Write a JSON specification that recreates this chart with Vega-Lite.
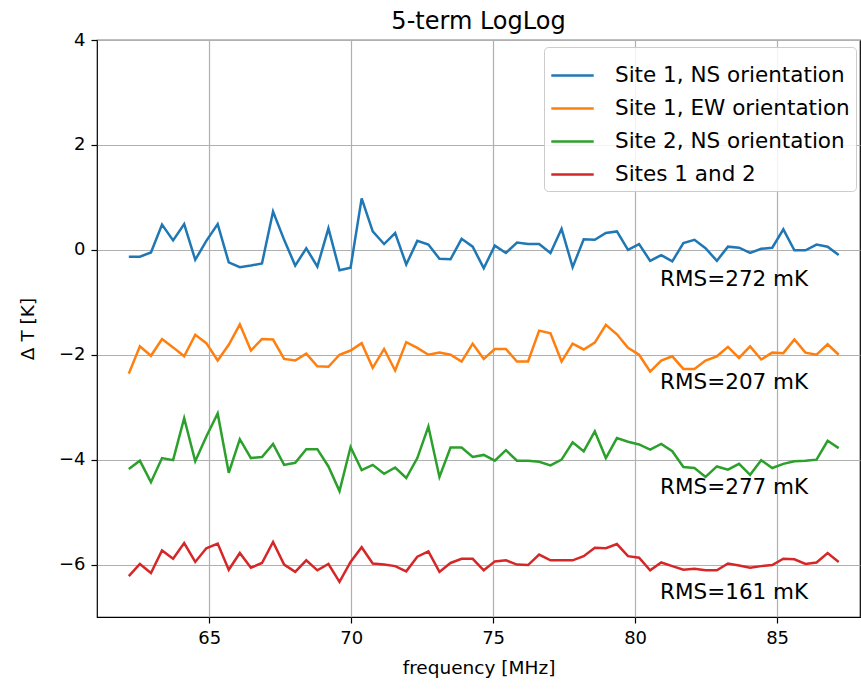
{
  "$schema": "https://vega.github.io/schema/vega-lite/v6.json",
  "autosize": {"type": "none"},
  "padding": {"left": 97, "top": 40, "right": 1, "bottom": 72},
  "width": 763,
  "height": 577,
  "background": "white",
  "config": {
    "font": "DejaVu Sans",
    "view": {"stroke": "black", "strokeWidth": 1.2},
    "axis": {
      "labelFont": "DejaVu Sans", "titleFont": "DejaVu Sans",
      "labelFontSize": 18, "titleFontSize": 18.5, "labelColor": "black", "titleColor": "black",
      "titleFontWeight": "normal", "domain": false, "tickColor": "black", "tickSize": 6, "tickWidth": 1.2,
      "gridColor": "#b0b0b0", "gridWidth": 1.2
    }
  },
  "title": {"text": "5-term LogLog", "fontSize": 24, "fontWeight": "normal", "font": "DejaVu Sans", "color": "black", "offset": -3},
  "datasets": {
    "spectra": [
      {"f": 62.17, "Site 1, NS orientation": -0.13, "Site 1, EW orientation": -2.36, "Site 2, NS orientation": -4.18, "Sites 1 and 2": -6.22},
      {"f": 62.56, "Site 1, NS orientation": -0.13, "Site 1, EW orientation": -1.84, "Site 2, NS orientation": -4.02, "Sites 1 and 2": -5.99},
      {"f": 62.95, "Site 1, NS orientation": -0.05, "Site 1, EW orientation": -2.02, "Site 2, NS orientation": -4.43, "Sites 1 and 2": -6.16},
      {"f": 63.34, "Site 1, NS orientation": 0.48, "Site 1, EW orientation": -1.70, "Site 2, NS orientation": -3.97, "Sites 1 and 2": -5.73},
      {"f": 63.73, "Site 1, NS orientation": 0.18, "Site 1, EW orientation": -1.86, "Site 2, NS orientation": -4.01, "Sites 1 and 2": -5.89},
      {"f": 64.12, "Site 1, NS orientation": 0.49, "Site 1, EW orientation": -2.03, "Site 2, NS orientation": -3.21, "Sites 1 and 2": -5.59},
      {"f": 64.51, "Site 1, NS orientation": -0.19, "Site 1, EW orientation": -1.62, "Site 2, NS orientation": -4.03, "Sites 1 and 2": -5.95},
      {"f": 64.90, "Site 1, NS orientation": 0.17, "Site 1, EW orientation": -1.78, "Site 2, NS orientation": -3.56, "Sites 1 and 2": -5.69},
      {"f": 65.30, "Site 1, NS orientation": 0.49, "Site 1, EW orientation": -2.11, "Site 2, NS orientation": -3.12, "Sites 1 and 2": -5.60},
      {"f": 65.69, "Site 1, NS orientation": -0.24, "Site 1, EW orientation": -1.81, "Site 2, NS orientation": -4.25, "Sites 1 and 2": -6.10},
      {"f": 66.08, "Site 1, NS orientation": -0.33, "Site 1, EW orientation": -1.42, "Site 2, NS orientation": -3.61, "Sites 1 and 2": -5.78},
      {"f": 66.47, "Site 1, NS orientation": -0.30, "Site 1, EW orientation": -1.92, "Site 2, NS orientation": -3.97, "Sites 1 and 2": -6.06},
      {"f": 66.86, "Site 1, NS orientation": -0.26, "Site 1, EW orientation": -1.70, "Site 2, NS orientation": -3.95, "Sites 1 and 2": -5.97},
      {"f": 67.25, "Site 1, NS orientation": 0.73, "Site 1, EW orientation": -1.71, "Site 2, NS orientation": -3.70, "Sites 1 and 2": -5.57},
      {"f": 67.64, "Site 1, NS orientation": 0.19, "Site 1, EW orientation": -2.08, "Site 2, NS orientation": -4.10, "Sites 1 and 2": -6.00},
      {"f": 68.03, "Site 1, NS orientation": -0.30, "Site 1, EW orientation": -2.11, "Site 2, NS orientation": -4.06, "Sites 1 and 2": -6.14},
      {"f": 68.42, "Site 1, NS orientation": 0.03, "Site 1, EW orientation": -1.98, "Site 2, NS orientation": -3.80, "Sites 1 and 2": -5.92},
      {"f": 68.81, "Site 1, NS orientation": -0.32, "Site 1, EW orientation": -2.22, "Site 2, NS orientation": -3.80, "Sites 1 and 2": -6.11},
      {"f": 69.20, "Site 1, NS orientation": 0.41, "Site 1, EW orientation": -2.23, "Site 2, NS orientation": -4.13, "Sites 1 and 2": -5.99},
      {"f": 69.59, "Site 1, NS orientation": -0.39, "Site 1, EW orientation": -2.00, "Site 2, NS orientation": -4.60, "Sites 1 and 2": -6.33},
      {"f": 69.98, "Site 1, NS orientation": -0.34, "Site 1, EW orientation": -1.92, "Site 2, NS orientation": -3.76, "Sites 1 and 2": -5.95},
      {"f": 70.37, "Site 1, NS orientation": 0.98, "Site 1, EW orientation": -1.78, "Site 2, NS orientation": -4.20, "Sites 1 and 2": -5.67},
      {"f": 70.76, "Site 1, NS orientation": 0.35, "Site 1, EW orientation": -2.25, "Site 2, NS orientation": -4.10, "Sites 1 and 2": -5.98},
      {"f": 71.16, "Site 1, NS orientation": 0.11, "Site 1, EW orientation": -1.89, "Site 2, NS orientation": -4.27, "Sites 1 and 2": -6.00},
      {"f": 71.55, "Site 1, NS orientation": 0.32, "Site 1, EW orientation": -2.30, "Site 2, NS orientation": -4.15, "Sites 1 and 2": -6.03},
      {"f": 71.94, "Site 1, NS orientation": -0.28, "Site 1, EW orientation": -1.76, "Site 2, NS orientation": -4.35, "Sites 1 and 2": -6.13},
      {"f": 72.33, "Site 1, NS orientation": 0.17, "Site 1, EW orientation": -1.87, "Site 2, NS orientation": -3.97, "Sites 1 and 2": -5.85},
      {"f": 72.72, "Site 1, NS orientation": 0.10, "Site 1, EW orientation": -2.00, "Site 2, NS orientation": -3.37, "Sites 1 and 2": -5.75},
      {"f": 73.11, "Site 1, NS orientation": -0.17, "Site 1, EW orientation": -1.96, "Site 2, NS orientation": -4.33, "Sites 1 and 2": -6.14},
      {"f": 73.50, "Site 1, NS orientation": -0.18, "Site 1, EW orientation": -2.00, "Site 2, NS orientation": -3.77, "Sites 1 and 2": -5.97},
      {"f": 73.89, "Site 1, NS orientation": 0.21, "Site 1, EW orientation": -2.13, "Site 2, NS orientation": -3.77, "Sites 1 and 2": -5.89},
      {"f": 74.28, "Site 1, NS orientation": 0.06, "Site 1, EW orientation": -1.79, "Site 2, NS orientation": -3.95, "Sites 1 and 2": -5.89},
      {"f": 74.67, "Site 1, NS orientation": -0.35, "Site 1, EW orientation": -2.08, "Site 2, NS orientation": -3.91, "Sites 1 and 2": -6.11},
      {"f": 75.06, "Site 1, NS orientation": 0.08, "Site 1, EW orientation": -1.89, "Site 2, NS orientation": -4.02, "Sites 1 and 2": -5.94},
      {"f": 75.45, "Site 1, NS orientation": -0.06, "Site 1, EW orientation": -1.89, "Site 2, NS orientation": -3.82, "Sites 1 and 2": -5.92},
      {"f": 75.84, "Site 1, NS orientation": 0.14, "Site 1, EW orientation": -2.13, "Site 2, NS orientation": -4.02, "Sites 1 and 2": -6.00},
      {"f": 76.23, "Site 1, NS orientation": 0.11, "Site 1, EW orientation": -2.13, "Site 2, NS orientation": -4.02, "Sites 1 and 2": -6.01},
      {"f": 76.62, "Site 1, NS orientation": 0.11, "Site 1, EW orientation": -1.54, "Site 2, NS orientation": -4.04, "Sites 1 and 2": -5.81},
      {"f": 77.02, "Site 1, NS orientation": -0.06, "Site 1, EW orientation": -1.59, "Site 2, NS orientation": -4.11, "Sites 1 and 2": -5.92},
      {"f": 77.41, "Site 1, NS orientation": 0.40, "Site 1, EW orientation": -2.13, "Site 2, NS orientation": -4.00, "Sites 1 and 2": -5.92},
      {"f": 77.80, "Site 1, NS orientation": -0.33, "Site 1, EW orientation": -1.79, "Site 2, NS orientation": -3.67, "Sites 1 and 2": -5.92},
      {"f": 78.19, "Site 1, NS orientation": 0.20, "Site 1, EW orientation": -1.90, "Site 2, NS orientation": -3.84, "Sites 1 and 2": -5.84},
      {"f": 78.58, "Site 1, NS orientation": 0.19, "Site 1, EW orientation": -1.77, "Site 2, NS orientation": -3.46, "Sites 1 and 2": -5.68},
      {"f": 78.97, "Site 1, NS orientation": 0.32, "Site 1, EW orientation": -1.43, "Site 2, NS orientation": -3.97, "Sites 1 and 2": -5.69},
      {"f": 79.36, "Site 1, NS orientation": 0.35, "Site 1, EW orientation": -1.61, "Site 2, NS orientation": -3.59, "Sites 1 and 2": -5.61},
      {"f": 79.75, "Site 1, NS orientation": 0.00, "Site 1, EW orientation": -1.87, "Site 2, NS orientation": -3.66, "Sites 1 and 2": -5.84},
      {"f": 80.14, "Site 1, NS orientation": 0.11, "Site 1, EW orientation": -2.00, "Site 2, NS orientation": -3.71, "Sites 1 and 2": -5.87},
      {"f": 80.53, "Site 1, NS orientation": -0.21, "Site 1, EW orientation": -2.32, "Site 2, NS orientation": -3.81, "Sites 1 and 2": -6.11},
      {"f": 80.92, "Site 1, NS orientation": -0.10, "Site 1, EW orientation": -2.11, "Site 2, NS orientation": -3.70, "Sites 1 and 2": -5.96},
      {"f": 81.31, "Site 1, NS orientation": -0.22, "Site 1, EW orientation": -2.03, "Site 2, NS orientation": -3.84, "Sites 1 and 2": -6.03},
      {"f": 81.70, "Site 1, NS orientation": 0.13, "Site 1, EW orientation": -2.27, "Site 2, NS orientation": -4.14, "Sites 1 and 2": -6.10},
      {"f": 82.09, "Site 1, NS orientation": 0.19, "Site 1, EW orientation": -2.27, "Site 2, NS orientation": -4.16, "Sites 1 and 2": -6.08},
      {"f": 82.48, "Site 1, NS orientation": 0.03, "Site 1, EW orientation": -2.11, "Site 2, NS orientation": -4.33, "Sites 1 and 2": -6.11},
      {"f": 82.88, "Site 1, NS orientation": -0.21, "Site 1, EW orientation": -2.03, "Site 2, NS orientation": -4.13, "Sites 1 and 2": -6.11},
      {"f": 83.27, "Site 1, NS orientation": 0.06, "Site 1, EW orientation": -1.85, "Site 2, NS orientation": -4.19, "Sites 1 and 2": -5.98},
      {"f": 83.66, "Site 1, NS orientation": 0.04, "Site 1, EW orientation": -2.06, "Site 2, NS orientation": -4.08, "Sites 1 and 2": -6.02},
      {"f": 84.05, "Site 1, NS orientation": -0.06, "Site 1, EW orientation": -1.84, "Site 2, NS orientation": -4.29, "Sites 1 and 2": -6.06},
      {"f": 84.44, "Site 1, NS orientation": 0.02, "Site 1, EW orientation": -2.09, "Site 2, NS orientation": -4.01, "Sites 1 and 2": -6.03},
      {"f": 84.83, "Site 1, NS orientation": 0.04, "Site 1, EW orientation": -1.96, "Site 2, NS orientation": -4.16, "Sites 1 and 2": -6.01},
      {"f": 85.22, "Site 1, NS orientation": 0.39, "Site 1, EW orientation": -1.97, "Site 2, NS orientation": -4.08, "Sites 1 and 2": -5.89},
      {"f": 85.61, "Site 1, NS orientation": -0.01, "Site 1, EW orientation": -1.71, "Site 2, NS orientation": -4.03, "Sites 1 and 2": -5.90},
      {"f": 86.00, "Site 1, NS orientation": -0.01, "Site 1, EW orientation": -1.96, "Site 2, NS orientation": -4.02, "Sites 1 and 2": -5.99},
      {"f": 86.39, "Site 1, NS orientation": 0.10, "Site 1, EW orientation": -2.00, "Site 2, NS orientation": -4.00, "Sites 1 and 2": -5.96},
      {"f": 86.78, "Site 1, NS orientation": 0.06, "Site 1, EW orientation": -1.80, "Site 2, NS orientation": -3.64, "Sites 1 and 2": -5.78},
      {"f": 87.17, "Site 1, NS orientation": -0.10, "Site 1, EW orientation": -2.00, "Site 2, NS orientation": -3.78, "Sites 1 and 2": -5.95}
    ],
    "notes": [
      {"f": 80.88, "t": -0.57, "label": "RMS=272 mK"},
      {"f": 80.88, "t": -2.53, "label": "RMS=207 mK"},
      {"f": 80.88, "t": -4.55, "label": "RMS=277 mK"},
      {"f": 80.88, "t": -6.55, "label": "RMS=161 mK"}
    ]
  },
  "layer": [
    {
      "data": {"name": "spectra"},
      "transform": [
        {"fold": ["Site 1, NS orientation", "Site 1, EW orientation", "Site 2, NS orientation", "Sites 1 and 2"], "as": ["series", "dT"]}
      ],
      "mark": {"type": "line", "strokeWidth": 2.5, "clip": true},
      "encoding": {
        "x": {"field": "f", "type": "quantitative",
              "scale": {"domain": [61.05, 87.92], "nice": false, "zero": false},
              "axis": {"values": [65, 70, 75, 80, 85], "title": "frequency [MHz]", "titlePadding": 11, "labelPadding": 6}},
        "y": {"field": "dT", "type": "quantitative",
              "scale": {"domain": [-7, 4], "nice": false, "zero": false},
              "axis": {"values": [-6, -4, -2, 0, 2, 4], "title": "Δ T [K]", "titlePadding": 21, "labelPadding": 6}},
        "color": {"field": "series", "type": "nominal",
                  "scale": {"domain": ["Site 1, NS orientation", "Site 1, EW orientation", "Site 2, NS orientation", "Sites 1 and 2"],
                            "range": ["#1f77b4", "#ff7f0e", "#2ca02c", "#d62728"]},
                  "legend": {"title": null, "orient": "none", "legendX": 447, "legendY": 7,
                             "symbolType": "stroke", "symbolSize": 1800, "symbolStrokeWidth": 2.5,
                             "labelFontSize": 21.5, "labelFont": "DejaVu Sans", "labelColor": "black", "labelLimit": 400,
                             "rowPadding": 0, "padding": 6, "labelOffset": 20,
                             "strokeColor": "#cccccc", "fillColor": "rgba(255,255,255,0.85)", "cornerRadius": 4}},
        "detail": {"field": "series"}
      }
    },
    {
      "data": {"name": "notes"},
      "mark": {"type": "text", "align": "left", "baseline": "middle", "fontSize": 21.5, "font": "DejaVu Sans", "color": "black"},
      "encoding": {
        "x": {"field": "f", "type": "quantitative"},
        "y": {"field": "t", "type": "quantitative"},
        "text": {"field": "label"}
      }
    }
  ]
}
